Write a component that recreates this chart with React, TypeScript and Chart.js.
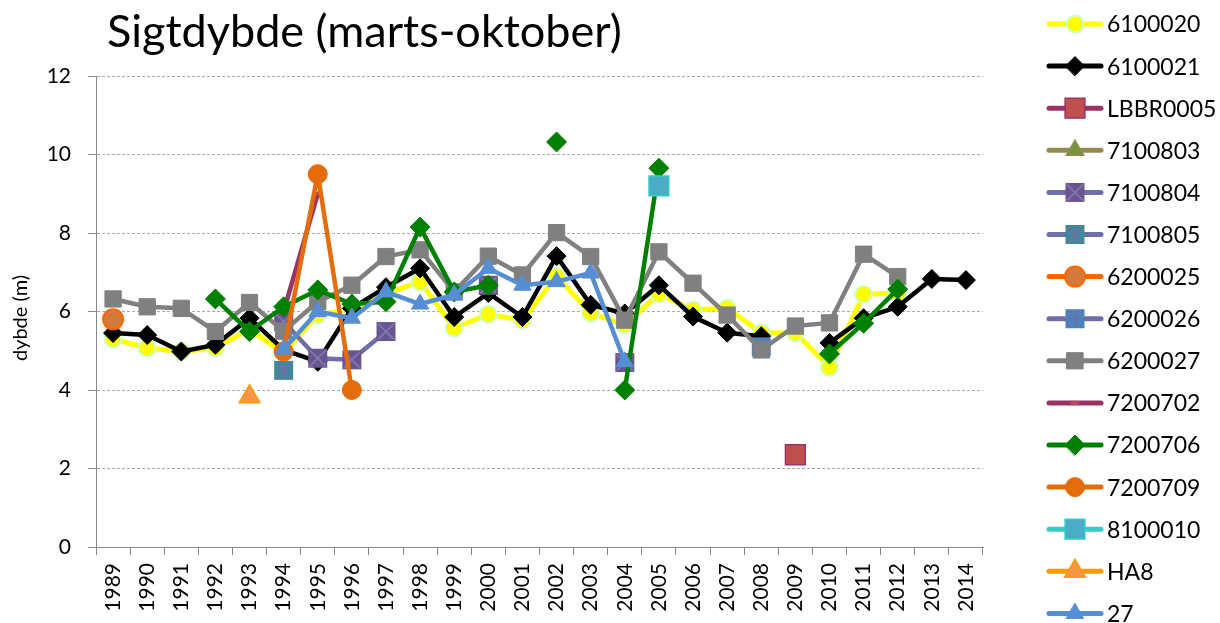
import React, { useEffect, useRef } from "react";
import { Chart, registerables } from "chart.js";
import { drawPoint } from "chart.js/helpers";

Chart.register(...registerables);

const TITLE = "Sigtdybde (marts-oktober)";
const Y_TITLE = "dybde (m)";

const years = [
  "1989", "1990", "1991", "1992", "1993", "1994", "1995", "1996", "1997", "1998",
  "1999", "2000", "2001", "2002", "2003", "2004", "2005", "2006", "2007", "2008",
  "2009", "2010", "2011", "2012", "2013", "2014",
];

const yMin = 0;
const yMax = 12;
const yStep = 2;

const seriesNames = [
  "6100020", "6100021", "LBBR0005", "7100803", "7100804", "7100805", "6200025",
  "6200026", "6200027", "7200702", "7200706", "7200709", "8100010", "HA8", "27",
];

const _ = null;
const s6100020 = [5.3, 5.07, 4.98, 5.07, 5.55, 4.94, 5.92, 6.05, 6.45, 6.76, 5.58, 5.93, 5.78, 6.9, 5.96, 5.66, 6.45, 6.04, 6.09, 5.46, 5.46, 4.58, 6.44, 6.47, _, _];
const s6100021 = [5.45, 5.4, 4.98, 5.15, 5.83, 5.02, 4.72, 6.08, 6.62, 7.1, 5.86, 6.47, 5.86, 7.41, 6.17, 5.95, 6.67, 5.87, 5.46, 5.37, _, 5.2, 5.83, 6.12, 6.83, 6.8];
const sLBBR0005 = [_, _, _, _, _, _, _, _, _, _, _, _, _, _, _, _, _, _, _, _, 2.35, _, _, _, _, _];
const s7100803 = [_, _, _, _, _, _, _, _, _, _, _, _, _, _, _, _, _, _, _, _, _, _, _, _, _, _];
const s7100804 = [_, _, _, _, _, 5.74, 4.81, 4.77, 5.49, _, _, 6.67, _, _, _, 4.7, _, _, _, _, _, _, _, _, _, _];
const s7100805 = [_, _, _, _, _, 4.5, _, _, _, _, _, _, _, _, _, _, _, _, _, _, _, _, _, _, _, _];
const s6200025 = [5.8, _, _, _, _, _, _, _, _, _, _, _, _, _, _, _, _, _, _, _, _, _, _, _, _, _];
const s6200026 = [_, _, _, _, _, _, _, _, _, _, _, _, _, _, _, _, _, _, _, 5.1, _, _, _, _, _, _];
const s6200027 = [6.32, 6.12, 6.08, 5.49, 6.23, 5.5, 6.25, 6.67, 7.4, 7.57, 6.5, 7.41, 6.93, 8.01, 7.4, 5.78, 7.52, 6.72, 5.91, 5.02, 5.63, 5.71, 7.46, 6.89, _, _];
const s7200702 = [_, _, _, _, _, 6.0, 9.0, _, _, _, _, _, _, _, _, _, _, _, _, _, _, _, _, _, _, _];
const s7200706 = [_, _, _, 6.32, 5.49, 6.12, 6.55, 6.19, 6.25, 8.15, 6.5, 6.67, _, 10.32, _, 4.0, 9.65, _, _, _, _, 4.92, 5.7, 6.57, _, _];
const s7200709 = [_, _, _, _, _, 4.98, 9.5, 4.0, _, _, _, _, _, _, _, _, _, _, _, _, _, _, _, _, _, _];
const s8100010 = [_, _, _, _, _, _, _, _, _, _, _, _, _, _, _, _, 9.2, _, _, _, _, _, _, _, _, _];
const sHA8 = [_, _, _, _, 3.83, _, _, _, _, _, _, _, _, _, _, _, _, _, _, _, _, _, _, _, _, _];
const s27 = [_, _, _, _, _, 5.04, 6.0, 5.83, 6.5, 6.19, 6.42, 7.1, 6.67, 6.76, 6.98, 4.72, _, _, _, _, _, _, _, _, _, _];

const seriesData = [
  s6100020, s6100021, sLBBR0005, s7100803, s7100804, s7100805, s6200025,
  s6200026, s6200027, s7200702, s7200706, s7200709, s8100010, sHA8, s27,
];

const FONT = "Lato, 'Open Sans', sans-serif";

function squareMarker(side: number, fill: string, stroke: string, overlay: string, overlayColor: string) {
  const s = Math.ceil(side) + 2;
  const c = document.createElement("canvas");
  c.width = s;
  c.height = s;
  const g = c.getContext("2d")!;
  const o = (s - side) / 2;
  g.fillStyle = fill;
  g.fillRect(o, o, side, side);
  g.strokeStyle = stroke;
  g.lineWidth = 1.5;
  g.strokeRect(o + 0.75, o + 0.75, side - 1.5, side - 1.5);
  if (overlay) {
    g.strokeStyle = overlayColor;
    g.lineWidth = 1.2;
    g.beginPath();
    const a = o + 1.5;
    const b = o + side - 1.5;
    const m = s / 2;
    if (overlay.includes("x")) {
      g.moveTo(a, a); g.lineTo(b, b);
      g.moveTo(b, a); g.lineTo(a, b);
    }
    if (overlay.includes("|")) {
      g.moveTo(m, a); g.lineTo(m, b);
    }
    if (overlay.includes("-")) {
      g.moveTo(a, m); g.lineTo(b, m);
    }
    g.stroke();
  }
  return c;
}

function dashMarker(w: number, h: number, fill: string, stroke: string) {
  const c = document.createElement("canvas");
  c.width = w + 2;
  c.height = h + 2;
  const g = c.getContext("2d")!;
  g.fillStyle = fill;
  g.fillRect(1, 1, w, h);
  g.strokeStyle = stroke;
  g.lineWidth = 1;
  g.strokeRect(1.5, 1.5, w - 1, h - 1);
  return c;
}

function buildStyles() {
  return [
    { line: "#FFFF00", width: 5, style: "circle", radius: 8.5, fill: "#FFFF00", border: "#CCFFCC", bw: 2 },
    { line: "#000000", width: 4.5, style: "rectRot", radius: 9.5, fill: "#000000", border: "#000000", bw: 1 },
    { line: "#993366", width: 4.5, style: "rect", radius: 14, fill: "#C0504D", border: "#993366", bw: 1.5 },
    { line: "#948A54", width: 4.5, style: "triangle", radius: 10, fill: "#77933C", border: "#948A54", bw: 1.5 },
    { line: "#6E6EA8", width: 4.5, style: squareMarker(19, "#6B558F", "#6B558F", "x", "#8585BF"), radius: 10, fill: "#6B558F", border: "#6B558F", bw: 0 },
    { line: "#6E6EA8", width: 4.5, style: squareMarker(19, "#3D8A9A", "#3D8A9A", "x|", "#7B6AA8"), radius: 10, fill: "#3D8A9A", border: "#3D8A9A", bw: 0 },
    { line: "#FF6600", width: 4.5, style: "circle", radius: 10, fill: "#D47B3C", border: "#FF6600", bw: 2 },
    { line: "#6E6EA8", width: 4.5, style: squareMarker(19, "#4F81BD", "#4F81BD", "|-", "#7F64A0"), radius: 10, fill: "#4F81BD", border: "#4F81BD", bw: 0 },
    { line: "#808080", width: 4.5, style: "rect", radius: 11.5, fill: "#808080", border: "#808080", bw: 1 },
    { line: "#993366", width: 4.5, style: dashMarker(9, 4, "#C0504D", "#B04060"), radius: 5, fill: "#C0504D", border: "#993366", bw: 0 },
    { line: "#008000", width: 4.5, style: "rectRot", radius: 10, fill: "#008000", border: "#008000", bw: 1 },
    { line: "#E46C0A", width: 4.5, style: "circle", radius: 9.5, fill: "#E46C0A", border: "#E46C0A", bw: 1 },
    { line: "#33CCCC", width: 4.5, style: "rect", radius: 14, fill: "#4BACC6", border: "#33CCCC", bw: 1.5 },
    { line: "#FF9900", width: 4.5, style: "triangle", radius: 12, fill: "#F79646", border: "#FF9900", bw: 1.5 },
    { line: "#558ED5", width: 4.5, style: "triangle", radius: 10, fill: "#558ED5", border: "#558ED5", bw: 1 },
  ];
}

function makeOverlayPlugin(styles: any[]) {
  return {
    id: "overlayText",
    afterDraw(chart: any) {
      const ctx = chart.ctx as CanvasRenderingContext2D;
      ctx.save();
      // title
      ctx.fillStyle = "#000";
      ctx.textAlign = "left";
      ctx.textBaseline = "alphabetic";
      ctx.font = `45px ${FONT}`;
      ctx.fillText(TITLE, 107, 47);
      // y axis title
      ctx.save();
      ctx.translate(21, 318);
      ctx.rotate(-Math.PI / 2);
      ctx.textAlign = "center";
      ctx.textBaseline = "middle";
      ctx.font = `20px ${FONT}`;
      ctx.fillText(Y_TITLE, 0, 0);
      ctx.restore();
      // legend
      chart.data.datasets.forEach((ds: any, i: number) => {
        const st = styles[i];
        const y = 24 + i * 42.1;
        ctx.beginPath();
        ctx.lineCap = "round";
        ctx.strokeStyle = st.line;
        ctx.lineWidth = 5;
        ctx.moveTo(1049, y);
        ctx.lineTo(1101, y);
        ctx.stroke();
        ctx.fillStyle = st.fill;
        ctx.strokeStyle = st.border;
        ctx.lineWidth = st.bw;
        drawPoint(ctx, { pointStyle: st.style, rotation: 0, radius: st.radius, borderWidth: st.bw } as any, 1075, y);
        ctx.fillStyle = "#000";
        ctx.textAlign = "left";
        ctx.textBaseline = "middle";
        ctx.font = `23px ${FONT}`;
        ctx.fillText(ds.label, 1107, y + 1);
      });
      ctx.restore();
    },
  };
}

export default function App() {
  const ref = useRef<HTMLCanvasElement | null>(null);

  useEffect(() => {
    const canvas = ref.current!;
    const styles = buildStyles();
    const n = seriesNames.length;
    const datasets = seriesNames.map((name, i) => {
      const st = styles[i];
      return {
        label: name,
        data: seriesData[i],
        borderColor: st.line,
        backgroundColor: st.fill,
        borderWidth: st.width,
        borderJoinStyle: "round" as const,
        borderCapStyle: "round" as const,
        pointStyle: st.style as any,
        pointRadius: st.radius,
        pointBackgroundColor: st.fill,
        pointBorderColor: st.border,
        pointBorderWidth: st.bw,
        pointHoverRadius: st.radius,
        spanGaps: false,
        tension: 0,
        fill: false,
        order: n - i,
      };
    });

    const chart = new Chart(canvas, {
      type: "line",
      data: { labels: years, datasets },
      options: {
        animation: false,
        responsive: false,
        devicePixelRatio: 1,
        layout: { padding: { left: 0, right: 237, top: 76, bottom: 0 } },
        plugins: {
          legend: { display: false },
          title: { display: false },
          tooltip: { enabled: false },
        },
        scales: {
          x: {
            type: "category",
            offset: true,
            grid: {
              offset: true,
              drawOnChartArea: false,
              drawTicks: true,
              tickLength: 8,
              color: "#868686",
            },
            border: { color: "#868686", width: 1 },
            ticks: {
              color: "#000",
              font: { family: FONT, size: 21 },
              minRotation: 90,
              maxRotation: 90,
              padding: 8,
              autoSkip: false,
            },
            afterFit: (s: any) => {
              s.height = 76;
            },
          },
          y: {
            min: yMin,
            max: yMax,
            ticks: {
              stepSize: yStep,
              color: "#000",
              font: { family: FONT, size: 21 },
              padding: 17,
            },
            grid: {
              color: (c: any) => (c.tick && c.tick.value === 0 ? "rgba(0,0,0,0)" : "#ABABAB"),
              tickColor: "#868686",
              tickLength: 8,
              lineWidth: 1,
            },
            border: { color: "#868686", width: 1, dash: [3, 2] },
            afterFit: (s: any) => {
              s.width = 96;
            },
          },
        },
      },
      plugins: [makeOverlayPlugin(styles)],
    });

    return () => chart.destroy();
  }, []);

  return (
    <div style={{ position: "absolute", left: 0, top: 0, width: 1220, height: 623, background: "#fff" }}>
      <canvas ref={ref} width={1220} height={623} style={{ display: "block", width: 1220, height: 623 }} />
    </div>
  );
}
